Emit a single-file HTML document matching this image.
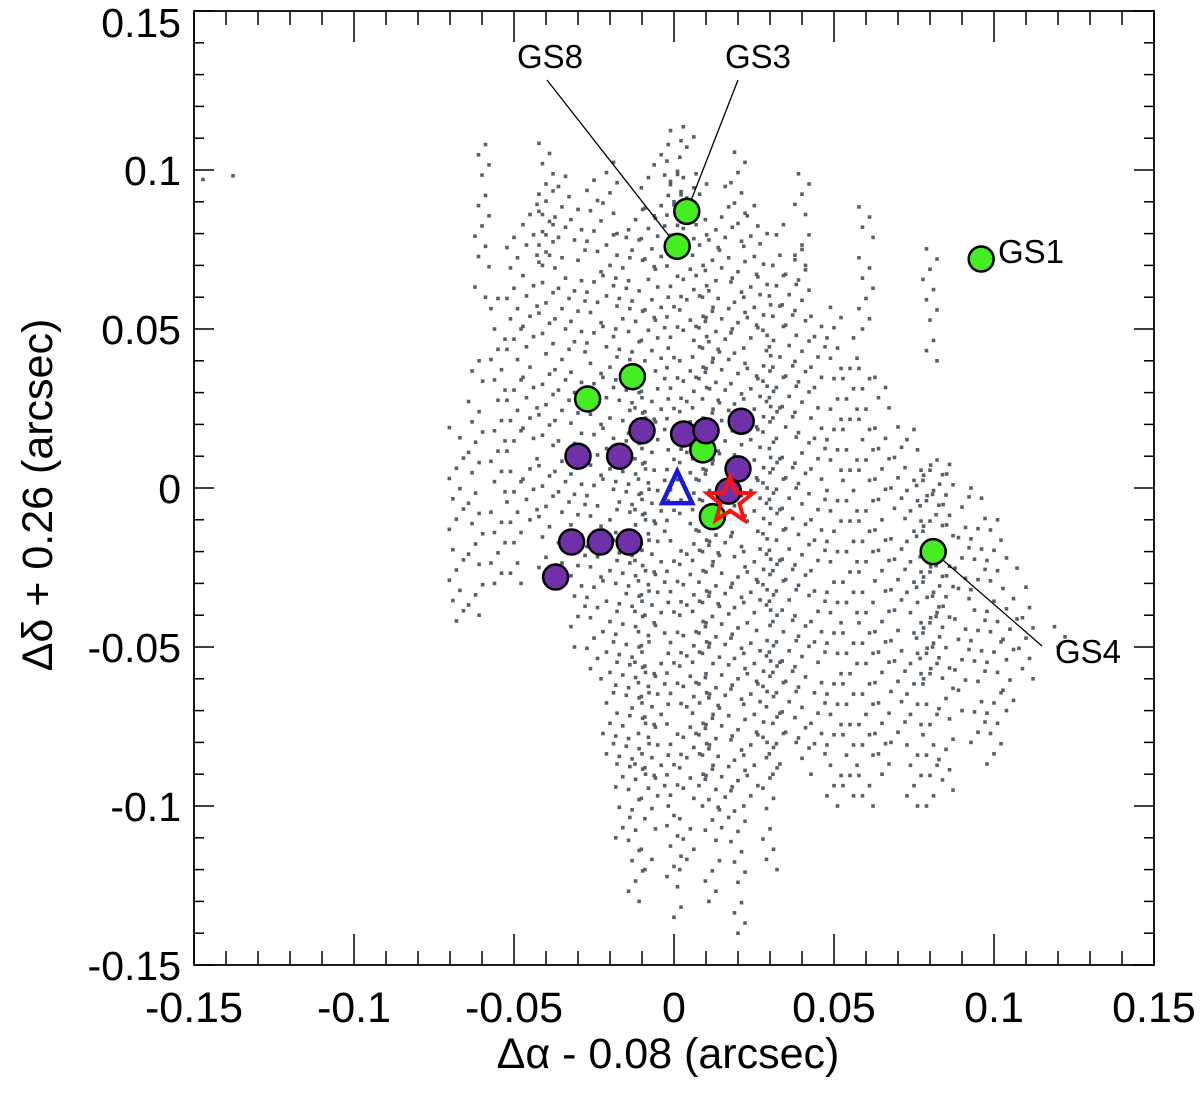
<!DOCTYPE html>
<html><head><meta charset="utf-8"><style>
body{margin:0;background:#fff}
svg text{font-family:"Liberation Sans",Arial,sans-serif;fill:#000}
</style></head><body>
<svg id="c" width="1200" height="1090" xmlns="http://www.w3.org/2000/svg">
<g id="dots"></g>
<g id="frame"></g>
<g id="marks"></g>
<text x="668" y="1068" font-size="43" text-anchor="middle">Δα - 0.08 (arcsec)</text>
<text transform="translate(52,495) rotate(-90)" font-size="43" text-anchor="middle">Δδ + 0.26 (arcsec)</text>
</svg>
<script>
const xTicks=[-0.15,-0.1,-0.05,0,0.05,0.1,0.15];
const xTickLabels=["-0.15","-0.1","-0.05","0","0.05","0.1","0.15"];
const yTicks=[-0.15,-0.1,-0.05,0,0.05,0.1,0.15];
const yTickLabels=["-0.15","-0.1","-0.05","0","0.05","0.1","0.15"];
// background streaks: x, y-start, y-end (arcsec)
const streakX=[-0.068,-0.062,-0.055,-0.05,-0.045,-0.04,-0.035,-0.03,-0.025,-0.02,-0.016,-0.012,-0.008,-0.004,0,0.004,0.008,0.012,0.016,0.02,0.024,0.028,0.032,0.036,0.04,0.045,0.05,0.055,0.06,0.065,0.07,0.075,0.08,0.085,0.09,0.095,0.1,0.105,0.11,0.12,0.13,-0.06,-0.04,-0.02,0.0,0.02,0.04,0.06,0.08,0.078,0.083,-0.01,0.01,0.03,-0.14,-0.145];
const streakY0=[-0.045,-0.04,-0.03,-0.03,-0.01,-0.025,-0.03,-0.05,-0.06,-0.09,-0.11,-0.13,-0.12,-0.1,-0.135,-0.12,-0.09,-0.13,-0.11,-0.14,-0.1,-0.08,-0.09,-0.08,-0.085,-0.09,-0.1,-0.1,-0.1,-0.09,-0.08,-0.1,-0.1,-0.095,-0.07,-0.08,-0.09,-0.07,-0.06,-0.05,-0.03,0.06,0.07,0.08,0.09,0.08,0.07,0.05,0.04,-0.06,-0.05,-0.09,-0.1,-0.12,0.095,0.097];
const streakY1=[0.02,0.04,0.06,0.08,0.09,0.095,0.1,0.09,0.1,0.085,0.08,0.09,0.1,0.11,0.1,0.115,0.1,0.09,0.095,0.08,0.09,0.08,0.085,0.07,0.075,0.06,0.06,0.05,0.04,0.035,0.02,0.02,0.01,0.01,0.0,0.0,-0.01,-0.02,-0.03,-0.04,-0.06,0.11,0.11,0.105,0.115,0.11,0.1,0.09,0.08,0.01,0.005,0.03,0.06,0.05,0.1,0.1];
const greenX=[0.004,0.001,0.096,-0.013,-0.027,0.009,0.012,0.081];
const greenY=[0.087,0.076,0.072,0.035,0.028,0.012,-0.009,-0.020];
const purpleX=[-0.030,-0.017,-0.010,0.003,0.010,0.021,0.020,0.017,-0.032,-0.023,-0.014,-0.037];
const purpleY=[0.010,0.010,0.018,0.017,0.018,0.021,0.006,-0.001,-0.017,-0.017,-0.017,-0.028];
const triX=[0.001], triY=[-0.001];
const starX=[0.0175], starY=[-0.004];
const labelNames=["GS8","GS3","GS1","GS4"];
const NS="http://www.w3.org/2000/svg";
const X=v=>674+v*3200, Y=v=>488-v*3180;
function mk(t,a,p){const e=document.createElementNS(NS,t);for(const k in a)e.setAttribute(k,a[k]);p.appendChild(e);return e;}
const dots=document.getElementById('dots'),frame=document.getElementById('frame'),marks=document.getElementById('marks');
streakX.forEach((x,i)=>{
  let k=0;
  for(let y=streakY0[i];y<=streakY1[i]+1e-9;y+=0.0032,k++){
    if(((k*5+i*7)%9)==0) continue;
    const dx=((k*7+i*3)%5-2)*0.0011;
    const d=mk('rect',{x:X(x+dx)-1.8,y:Y(y)-1.8,width:3.6,height:3.6,fill:'#56606c'},dots);
    
    
  }
});
mk('rect',{x:194,y:11,width:960,height:954,fill:'none',stroke:'#000','stroke-width':1.8},frame);
for(let i=0;i<=30;i++){
  const v=-0.15+i*0.01, maj=i%5==0;
  const Lx=maj?31:14, Ly=maj?20:10;
  const px=X(v), py=Y(v);
  mk('line',{x1:px,y1:965,x2:px,y2:965-Lx,stroke:'#000','stroke-width':1.5},frame);
  mk('line',{x1:px,y1:11,x2:px,y2:11+Lx,stroke:'#000','stroke-width':1.5},frame);
  mk('line',{x1:194,y1:py,x2:194+Ly,y2:py,stroke:'#000','stroke-width':1.5},frame);
  mk('line',{x1:1154,y1:py,x2:1154-Ly,y2:py,stroke:'#000','stroke-width':1.5},frame);
}
xTicks.forEach((v,i)=>{const t=mk('text',{x:X(v),y:1022,'font-size':43,'text-anchor':'middle'},frame);t.textContent=xTickLabels[i];
});
yTicks.forEach((v,i)=>{const t=mk('text',{x:181,y:Math.max(37,Y(v)+15),'font-size':41,'text-anchor':'end'},frame);t.textContent=yTickLabels[i];
});
// leader lines
const lines=[[547,80,X(greenX[1]),Y(greenY[1])],[738,80,X(greenX[0]),Y(greenY[0])],[1042,646,X(greenX[7]),Y(greenY[7])]];
lines.forEach(l=>{const e=mk('line',{x1:l[0],y1:l[1],x2:l[2],y2:l[3],stroke:'#000','stroke-width':1.3},marks);});
greenX.forEach((x,i)=>{const c=mk('circle',{cx:X(x),cy:Y(greenY[i]),r:12.5,fill:'#44ee22',stroke:'#000','stroke-width':2.5},marks);
});
purpleX.forEach((x,i)=>{const c=mk('circle',{cx:X(x),cy:Y(purpleY[i]),r:12.5,fill:'#7030a8',stroke:'#000','stroke-width':2.5},marks);
});
triX.forEach((x,i)=>{const cx=X(x),cy=Y(triY[i]);const p=mk('polygon',{points:`${cx},${cy-20} ${cx-15},${cy+12} ${cx+15},${cy+12}`,fill:'none',stroke:'#1a1ad8','stroke-width':4.5},marks);
});
starX.forEach((x,i)=>{const cx=X(x),cy=Y(starY[i]);let pts=[];for(let k=0;k<10;k++){const r=k%2?10:24,a=-Math.PI/2+k*Math.PI/5;pts.push((cx+r*Math.cos(a)).toFixed(1)+','+(cy+r*Math.sin(a)).toFixed(1));}
const p=mk('polygon',{points:pts.join(' '),fill:'none',stroke:'#ff1111','stroke-width':4},marks);
});
const lp=[[550,68,'middle'],[758,68,'middle'],[998,263,'start'],[1088,663,'middle']];
labelNames.forEach((n,i)=>{const t=mk('text',{x:lp[i][0],y:lp[i][1],'font-size':33,'text-anchor':lp[i][2]},marks);t.textContent=n;
});
</script>
</body></html>
